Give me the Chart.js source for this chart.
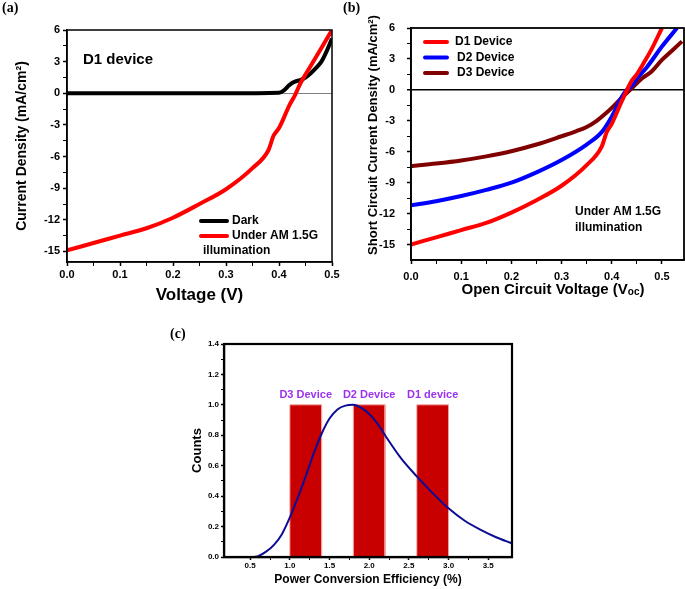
<!DOCTYPE html>
<html lang="en">
<head>
<meta charset="UTF-8">
<script src="https://cdn.jsdelivr.net/npm/chart.js"></script>
<title>J-V curves and PCE distribution</title>
<style>
    body { margin: 0; background: #fff; }
    #wrap { position: relative; width: 685px; height: 589px; overflow: hidden; background: #fff; }
    canvas { position: absolute; }
    .lab { position: absolute; font: bold 14px "Liberation Serif", "Times New Roman", serif; color: #000; }
</style>
</head>
<body>
<div id="wrap">
    <canvas id="chartA" width="350" height="310" style="left:0px;top:0px"></canvas>
    <canvas id="chartB" width="345" height="310" style="left:340px;top:0px"></canvas>
    <canvas id="chartC" width="360" height="289" style="left:170px;top:300px"></canvas>
    <div class="lab" style="left:2px;top:0px">(a)</div>
    <div class="lab" style="left:343px;top:0px">(b)</div>
    <div class="lab" style="left:170px;top:326px">(c)</div>
</div>

<script>
// (a) D1 device, dark and illuminated
const voltLight = [0, 0.05, 0.1, 0.15, 0.2, 0.25, 0.3, 0.35, 0.38, 0.39, 0.4, 0.42, 0.43, 0.44, 0.46, 0.48, 0.5];
const jLight = [-14.9, -14.2, -13.5, -12.8, -11.8, -10.5, -9.1, -7.1, -5.4, -4.0, -3.3, -1.1, -0.2, 0.9, 2.6, 4.3, 6.0];
const voltDark = [0, 0.1, 0.2, 0.3, 0.4, 0.41, 0.42, 0.43, 0.44, 0.45, 0.46, 0.47, 0.48, 0.49, 0.5];
const jDark = [0, 0, 0, 0, 0.05, 0.3, 0.8, 1.1, 1.25, 1.5, 1.9, 2.4, 3.0, 4.0, 5.2];
const xTicksA = [0, 0.1, 0.2, 0.3, 0.4, 0.5];
const yTicksA = [-15, -12, -9, -6, -3, 0, 3, 6];

// (b) three devices under AM 1.5G
const voltD1 = [0, 0.05, 0.1, 0.15, 0.2, 0.25, 0.3, 0.35, 0.38, 0.39, 0.4, 0.42, 0.44, 0.45, 0.46, 0.48, 0.5];
const jD1 = [-15.0, -14.3, -13.6, -12.9, -11.9, -10.7, -9.3, -7.3, -5.5, -4.1, -3.3, -1.1, 0.9, 1.5, 2.3, 4.0, 6.0];
const voltD2 = [0, 0.05, 0.1, 0.15, 0.2, 0.25, 0.3, 0.35, 0.38, 0.4, 0.42, 0.43, 0.44, 0.45, 0.47, 0.5, 0.53];
const jD2 = [-11.2, -10.8, -10.3, -9.7, -9.0, -8.0, -6.8, -5.3, -4.1, -2.6, -0.7, 0, 0.4, 1.1, 2.2, 4.2, 6.0];
const voltD3 = [0, 0.05, 0.1, 0.15, 0.2, 0.25, 0.3, 0.33, 0.35, 0.37, 0.39, 0.4, 0.42, 0.44, 0.46, 0.48, 0.5, 0.52, 0.54];
const jD3 = [-7.4, -7.15, -6.85, -6.45, -5.95, -5.3, -4.5, -4.0, -3.6, -3.0, -2.2, -1.75, -0.75, 0.15, 1.1, 1.8, 2.9, 3.8, 4.7];
const xTicksB = [0, 0.1, 0.2, 0.3, 0.4, 0.5];
const yTicksB = [-15, -12, -9, -6, -3, 0, 3, 6];
const deviceNames = ['D1 Device', 'D2 Device', 'D3 Device'];

// (c) PCE histogram + fitted distribution
const pce = [0.55, 0.6, 0.7, 0.8, 0.9, 1.0, 1.1, 1.2, 1.3, 1.4, 1.5, 1.6, 1.7, 1.8, 1.9, 2.0, 2.1, 2.2, 2.4, 2.6, 2.8, 3.0, 3.2, 3.4, 3.6, 3.8];
const fitCounts = [0, 0.005, 0.035, 0.08, 0.15, 0.26, 0.39, 0.53, 0.68, 0.81, 0.91, 0.97, 0.995, 1.0, 0.98, 0.94, 0.88, 0.8, 0.65, 0.53, 0.42, 0.32, 0.24, 0.18, 0.13, 0.09];
const binStart = [1.0, 1.8, 2.6];
const binEnd = [1.4, 2.2, 3.0];
const binCounts = [1, 1, 1];
const binNames = ['D3 Device', 'D2 Device', 'D1 device'];
const xTicksC = [0.5, 1.0, 1.5, 2.0, 2.5, 3.0, 3.5];
const yTicksC = [0, 0.2, 0.4, 0.6, 0.8, 1.0, 1.2, 1.4];

Chart.defaults.font.family = '"Liberation Sans", Arial, sans-serif';
Chart.defaults.font.weight = 'bold';
Chart.defaults.color = '#000';

function pts(xs, ys) {
    return xs.map(function (x, i) { return { x: x, y: ys[i] }; });
}

// major ticks plus a minor one half way between
function withMinor(major) {
    let out = [];
    for (let i = 0; i < major.length; i++) {
        out.push({ value: major[i], minor: false });
        if (i < major.length - 1) out.push({ value: (major[i] + major[i + 1]) / 2, minor: true });
    }
    return out;
}

function axis(o) {
    return {
        type: 'linear',
        position: o.pos,
        min: o.min,
        max: o.max,
        afterBuildTicks: function (s) { s.ticks = withMinor(o.ticks); },
        afterFit: function (s) {
            if (s.isHorizontal()) s.height = o.size; else s.width = o.size;
        },
        border: { color: '#000', width: o.bw || 1.5 },
        grid: {
            drawOnChartArea: !!o.zero,
            color: function (c) { return (o.zero && c.tick && c.tick.value === 0) ? o.zero : 'rgba(0,0,0,0)'; },
            lineWidth: function (c) { return (c.tick && c.tick.value === 0) ? (o.zeroW || 1) : 1; },
            tickColor: '#000',
            tickLength: o.tl || 4,
            tickWidth: function (c) { return (c.tick && c.tick.minor) ? 1 : 1.5; }
        },
        ticks: {
            autoSkip: false,
            maxRotation: 0,
            padding: o.pad,
            font: { size: o.font, weight: 'bold' },
            callback: function (v, i, t) { return t[i].minor ? '' : o.fmt(v); }
        },
        title: o.title ? {
            display: true,
            text: o.title,
            font: { size: o.titleSize, weight: 'bold' },
            padding: o.titlePad
        } : { display: false }
    };
}

const frame = {
    id: 'frame',
    afterDatasetsDraw(chart, args, opts) {
        const a = chart.chartArea, ctx = chart.ctx;
        ctx.save();
        ctx.strokeStyle = '#000';
        ctx.lineWidth = opts.width || 1.5;
        ctx.strokeRect(a.left, a.top, a.right - a.left, a.bottom - a.top);
        ctx.restore();
    }
};

// free text and legend keys, canvas coordinates
function notes(items) {
    return {
        id: 'notes',
        afterDraw(chart) {
            const ctx = chart.ctx;
            ctx.save();
            items.forEach(function (it) {
                if (it.line) {
                    ctx.strokeStyle = it.color;
                    ctx.lineWidth = 4;
                    ctx.lineCap = 'round';
                    ctx.beginPath();
                    ctx.moveTo(it.line[0], it.line[2]);
                    ctx.lineTo(it.line[1], it.line[2]);
                    ctx.stroke();
                } else {
                    ctx.fillStyle = it.color || '#000';
                    ctx.font = 'bold ' + it.size + 'px "Liberation Sans", Arial, sans-serif';
                    ctx.textAlign = it.align || 'left';
                    ctx.textBaseline = 'middle';
                    if (it.rot) {
                        ctx.save();
                        ctx.translate(it.x, it.y);
                        ctx.rotate(-Math.PI / 2);
                        ctx.fillText(it.text, 0, 0);
                        ctx.restore();
                    } else {
                        ctx.fillText(it.text, it.x, it.y);
                    }
                }
            });
            ctx.restore();
        }
    };
}

function lineSet(label, data, color, w) {
    return {
        label: label, data: data, borderColor: color, backgroundColor: color,
        borderWidth: w, pointRadius: 0, cubicInterpolationMode: 'monotone', fill: false
    };
}

const fmt1 = function (v) { return v.toFixed(1); };
const fmt0 = function (v) { return String(v); };

// ---------- (a)
new Chart(document.getElementById('chartA'), {
    type: 'line',
    data: {
        datasets: [
            lineSet('Under AM 1.5G illumination', pts(voltLight, jLight), '#ff0000', 4),
            lineSet('Dark', pts(voltDark, jDark), '#000000', 4)
        ]
    },
    options: {
        responsive: false, animation: false,
        layout: { padding: { top: 30, right: 18, left: 0, bottom: 0 } },
        plugins: { legend: { display: false }, tooltip: { enabled: false }, frame: { width: 1.5 } },
        scales: {
            x: axis({ pos: 'bottom', min: 0, max: 0.5, ticks: xTicksA, size: 48, pad: 2, font: 11, fmt: fmt1,
                      title: 'Voltage (V)', titleSize: 17, titlePad: { top: 0, bottom: 4 } }),
            y: axis({ pos: 'left', min: -16, max: 6, ticks: yTicksA, size: 67, pad: 3, font: 11, fmt: fmt0,
                      zero: '#808080', zeroW: 1,
                      title: 'Current Density (mA/cm\u00B2)', titleSize: 14, titlePad: { top: 14, bottom: 0 } })
        }
    },
    plugins: [frame, notes([
        { text: 'D1 device', x: 83, y: 60, size: 15 },
        { line: [201, 227, 221], color: '#000' },
        { text: 'Dark', x: 232, y: 221, size: 12 },
        { line: [201, 227, 236], color: '#ff0000' },
        { text: 'Under AM 1.5G', x: 232, y: 236, size: 12 },
        { text: 'illumination', x: 203, y: 251, size: 12 }
    ])]
});

// ---------- (b)
const colorsB = ['#ff0000', '#0000ff', '#800000'];
new Chart(document.getElementById('chartB'), {
    type: 'line',
    data: {
        datasets: [
            lineSet(deviceNames[0], pts(voltD1, jD1), colorsB[0], 4),
            lineSet(deviceNames[1], pts(voltD2, jD2), colorsB[1], 4),
            lineSet(deviceNames[2], pts(voltD3, jD3), colorsB[2], 4)
        ]
    },
    options: {
        responsive: false, animation: false,
        layout: { padding: { top: 28, right: 1, left: 0, bottom: 0 } },
        plugins: { legend: { display: false }, tooltip: { enabled: false }, frame: { width: 1.8 } },
        scales: {
            x: axis({ pos: 'bottom', min: 0, max: 0.544, ticks: xTicksB, size: 50, pad: 6, font: 11, fmt: fmt1 }),
            y: axis({ pos: 'left', min: -16.5, max: 6, ticks: yTicksB, size: 71, pad: 12, font: 11, fmt: fmt0,
                      zero: '#000', zeroW: 1.5 })
        }
    },
    plugins: [frame, notes([
        { line: [85, 107, 42], color: colorsB[0] },
        { text: deviceNames[0], x: 115, y: 42, size: 12 },
        { line: [85, 107, 57.5], color: colorsB[1] },
        { text: deviceNames[1], x: 117, y: 57.5, size: 12 },
        { line: [85, 107, 73], color: colorsB[2] },
        { text: deviceNames[2], x: 117, y: 73, size: 12 },
        { text: 'Under AM 1.5G', x: 235, y: 212, size: 12 },
        { text: 'illumination', x: 235, y: 228, size: 12 },
        { text: 'Short Circuit Current Density (mA/cm\u00B2)', x: 33, y: 135, size: 13, align: 'center', rot: true }
    ]), {
        id: 'voc',
        afterDraw(chart) {
            // x title with subscript oc
            const ctx = chart.ctx;
            const big = 'bold 15px "Liberation Sans", Arial, sans-serif';
            const small = 'bold 10px "Liberation Sans", Arial, sans-serif';
            const p1 = 'Open Circuit Voltage (V', p2 = 'oc', p3 = ')';
            ctx.save();
            ctx.fillStyle = '#000';
            ctx.textBaseline = 'alphabetic';
            ctx.font = big; const w1 = ctx.measureText(p1).width, w3 = ctx.measureText(p3).width;
            ctx.font = small; const w2 = ctx.measureText(p2).width;
            let x = 213 - (w1 + w2 + w3) / 2, y = 294;
            ctx.font = big; ctx.fillText(p1, x, y); x += w1;
            ctx.font = small; ctx.fillText(p2, x, y + 1); x += w2;
            ctx.font = big; ctx.fillText(p3, x, y);
            ctx.restore();
        }
    }]
});

// ---------- (c)
const barSets = binStart.map(function (s, i) {
    return {
        label: binNames[i],
        data: pts([s, s, binEnd[i], binEnd[i]], [0, binCounts[i], binCounts[i], 0]),
        borderColor: '#f2a0a0', borderWidth: 1, backgroundColor: '#c80000',
        pointRadius: 0, tension: 0, fill: 'origin'
    };
});
new Chart(document.getElementById('chartC'), {
    type: 'line',
    data: {
        datasets: [
            {
                label: 'fit', data: pts(pce, fitCounts), borderColor: '#0c0c96', borderWidth: 2,
                pointRadius: 0, cubicInterpolationMode: 'monotone', fill: false
            }
        ].concat(barSets)
    },
    options: {
        responsive: false, animation: false,
        layout: { padding: { top: 44, right: 18, left: 0, bottom: 0 } },
        plugins: { legend: { display: false }, tooltip: { enabled: false }, frame: { width: 2.2 } },
        scales: {
            x: axis({ pos: 'bottom', min: 0.17, max: 3.8, ticks: xTicksC, size: 32, pad: 1, tl: 3, font: 8, fmt: fmt1,
                      bw: 2.2, title: 'Power Conversion Efficiency (%)', titleSize: 12, titlePad: { top: 0, bottom: 2 } }),
            y: axis({ pos: 'left', min: 0, max: 1.4, ticks: yTicksC, size: 54, pad: 2, tl: 3, font: 8, fmt: fmt1,
                      bw: 2.2, title: 'Counts', titleSize: 13, titlePad: { top: 20, bottom: 0 } })
        }
    },
    plugins: [frame, {
        id: 'binLabels',
        afterDatasetsDraw(chart) {
            const ctx = chart.ctx, xs = chart.scales.x, ys = chart.scales.y;
            ctx.save();
            ctx.fillStyle = '#9a32f0';
            ctx.font = 'bold 11px "Liberation Sans", Arial, sans-serif';
            ctx.textAlign = 'center';
            ctx.textBaseline = 'middle';
            binNames.forEach(function (n, i) {
                const cx = xs.getPixelForValue((binStart[i] + binEnd[i]) / 2);
                ctx.fillText(n, cx, ys.getPixelForValue(binCounts[i]) - 10);
            });
            ctx.restore();
        }
    }]
});
</script>
</body>
</html>
